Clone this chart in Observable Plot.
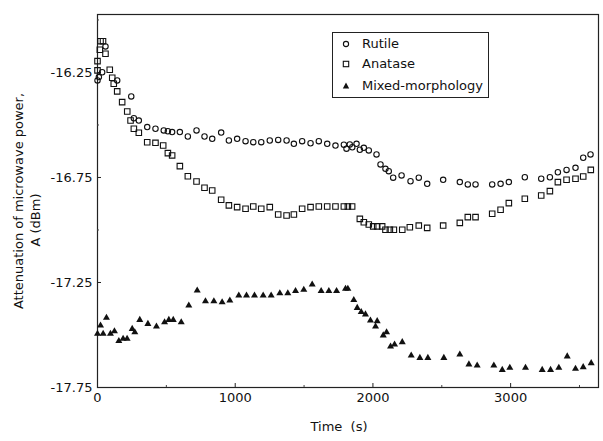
<!DOCTYPE html>
<html>
<head>
<meta charset="utf-8">
<script src="https://cdn.jsdelivr.net/npm/d3@7"></script>
<script src="https://cdn.jsdelivr.net/npm/@observablehq/plot@0.6"></script>
<style>
  html, body { margin: 0; padding: 0; background: #fff; }
  #chart { position: relative; width: 603px; height: 441px; font-family: "DejaVu Sans", sans-serif; color: #111; }
  #legend { position: absolute; left: 332px; top: 32px; width: 157px; height: 66px; box-sizing: border-box;
            border: 1px solid #222; background: #fff; font-size: 13px; }
  #legend .row { position: absolute; left: 0; height: 20px; line-height: 20px; white-space: nowrap; }
  #legend svg { position: absolute; left: 7px; top: 5px; }
  #legend span { position: absolute; left: 29px; }
</style>
</head>
<body>
<div id="chart"></div>
<script>
// Attenuation of microwave power vs time for three TiO2 samples
const rutileT = [0, 10, 34, 58, 143, 245, 264, 300, 361, 421, 481, 511, 542, 598, 656, 719, 777, 833, 898, 954,
  1014, 1075, 1131, 1189, 1251, 1312, 1373, 1426, 1486, 1547, 1607, 1668, 1728, 1789, 1808, 1832, 1850, 1881, 1905, 1934,
  1970, 2026, 2055, 2091, 2115, 2147, 2208, 2273, 2333, 2394, 2510, 2631, 2689, 2745, 2866, 2927, 2987, 3103, 3222, 3285,
  3343, 3406, 3471, 3527, 3580];
const rutileA = [-16.288, -16.272, -16.249, -16.126, -16.288, -16.364, -16.468, -16.479, -16.51, -16.518, -16.526, -16.53, -16.534, -16.534, -16.555, -16.526, -16.555, -16.566, -16.536, -16.574,
  -16.566, -16.577, -16.582, -16.582, -16.574, -16.571, -16.574, -16.59, -16.577, -16.587, -16.577, -16.59, -16.598, -16.594, -16.613, -16.593, -16.606, -16.59, -16.618, -16.609,
  -16.621, -16.64, -16.688, -16.709, -16.72, -16.751, -16.74, -16.768, -16.751, -16.78, -16.761, -16.772, -16.783, -16.783, -16.783, -16.78, -16.772, -16.749, -16.756, -16.749,
  -16.725, -16.714, -16.704, -16.656, -16.64];

const anataseT = [0, 0, 17, 22, 40, 58, 89, 107, 118, 143, 179, 216, 240, 264, 300, 361, 421, 477, 511, 542,
  598, 656, 719, 777, 833, 898, 954, 1014, 1075, 1131, 1189, 1251, 1312, 1373, 1426, 1486, 1547, 1607, 1668, 1728,
  1789, 1818, 1849, 1905, 1934, 1970, 2002, 2031, 2067, 2091, 2123, 2152, 2213, 2268, 2333, 2394, 2510, 2631, 2689, 2745,
  2866, 2927, 2987, 3103, 3222, 3285, 3343, 3406, 3471, 3527, 3582];
const anataseA = [-16.196, -16.24, -16.142, -16.101, -16.101, -16.161, -16.237, -16.275, -16.304, -16.34, -16.391, -16.436, -16.479, -16.518, -16.537, -16.582, -16.585, -16.598, -16.634, -16.645,
  -16.696, -16.744, -16.769, -16.799, -16.812, -16.856, -16.883, -16.891, -16.899, -16.888, -16.899, -16.891, -16.926, -16.931, -16.926, -16.899, -16.891, -16.888, -16.888, -16.888,
  -16.888, -16.888, -16.888, -16.947, -16.963, -16.974, -16.983, -16.983, -16.983, -16.999, -16.999, -16.999, -16.999, -16.987, -16.979, -16.99, -16.979, -16.966, -16.939, -16.939,
  -16.923, -16.904, -16.872, -16.851, -16.836, -16.815, -16.772, -16.761, -16.756, -16.745, -16.714];

const mixedT = [0, 22, 41, 65, 94, 123, 155, 186, 215, 252, 271, 307, 366, 428, 487, 518, 550, 608, 663, 724,
  784, 845, 905, 961, 1026, 1082, 1140, 1203, 1261, 1324, 1382, 1438, 1498, 1559, 1624, 1680, 1736, 1801, 1818, 1861,
  1886, 1915, 1946, 1982, 2019, 2031, 2075, 2099, 2128, 2157, 2213, 2278, 2341, 2399, 2515, 2631, 2697, 2757, 2878, 2939,
  2994, 3108, 3229, 3290, 3350, 3411, 3471, 3527, 3585];
const mixedA = [-17.494, -17.455, -17.494, -17.418, -17.494, -17.482, -17.529, -17.518, -17.518, -17.471, -17.487, -17.428, -17.447, -17.46, -17.439, -17.428, -17.428, -17.439, -17.36, -17.288,
  -17.339, -17.339, -17.344, -17.336, -17.312, -17.312, -17.312, -17.312, -17.312, -17.301, -17.301, -17.291, -17.285, -17.26, -17.291, -17.291, -17.291, -17.28, -17.28, -17.333,
  -17.371, -17.391, -17.402, -17.431, -17.46, -17.434, -17.502, -17.487, -17.555, -17.545, -17.534, -17.598, -17.609, -17.609, -17.609, -17.593, -17.64, -17.645, -17.645, -17.666,
  -17.656, -17.656, -17.666, -17.666, -17.656, -17.602, -17.661, -17.653, -17.634];

const xTicks = [0, 1000, 2000, 3000];
const xMinor = [500, 1500, 2500, 3500];
const yTicks = [-17.75, -17.25, -16.75, -16.25];
const yMinor = [-17.5, -17.0, -16.5, -16.0];

const series = [
  {name: "Rutile", t: rutileT, a: rutileA},
  {name: "Anatase", t: anataseT, a: anataseA},
  {name: "Mixed-morphology", t: mixedT, a: mixedA}
];
const rows = name => {
  const s = series.find(d => d.name === name);
  return s.t.map((t, i) => ({time: t, atten: s.a[i]}));
};

const chart = Plot.plot({
  width: 603,
  height: 441,
  marginLeft: 97,
  marginRight: 5,
  marginTop: 14,
  marginBottom: 54,
  style: {fontFamily: "DejaVu Sans, sans-serif", fontSize: "13px", color: "#111", background: "#fff", overflow: "visible"},
  x: {domain: [0, 3638]},
  y: {domain: [-17.75, -15.974]},
  marks: [
    Plot.frame({stroke: "#222", strokeWidth: 1.2}),
    // tick labels
    Plot.axisX({ticks: xTicks, tickSize: 0, tickPadding: 5, label: null, fontSize: 13, tickFormat: d => String(d)}),
    Plot.axisY({ticks: yTicks, tickSize: 0, tickPadding: 5, label: null, fontSize: 13,
                tickFormat: d => d.toFixed(2)}),
    // small inward tick marks
    Plot.axisX({ticks: xTicks, tickSize: -4, tickFormat: () => "", label: null, stroke: "#222"}),
    Plot.axisX({ticks: xMinor, tickSize: -2, tickFormat: () => "", label: null, stroke: "#444"}),
    Plot.axisY({ticks: yTicks, tickSize: -4, tickFormat: () => "", label: null, stroke: "#222"}),
    Plot.axisY({ticks: yMinor, tickSize: -2, tickFormat: () => "", label: null, stroke: "#444"}),
    // axis titles
    Plot.text(["Time  (s)"], {text: d => d, frameAnchor: "bottom", dx: -9, dy: 43, fontSize: 13}),
    Plot.text(["Attenuation of microwave power,"], {text: d => d, frameAnchor: "left", textAnchor: "middle",
      rotate: -90, dx: -79, dy: 0, fontSize: 13, letterSpacing: 0.4}),
    Plot.text(["A (dBm)"], {text: d => d, frameAnchor: "left", textAnchor: "middle",
      rotate: -90, dx: -62, dy: 19, fontSize: 13}),
    // data
    Plot.dot(rows("Rutile"), {x: "time", y: "atten", r: 2.7, stroke: "#111", strokeWidth: 1.1, fill: "none"}),
    Plot.dot(rows("Anatase"), {x: "time", y: "atten", symbol: "square", r: 3.1, stroke: "#111", strokeWidth: 1.1, fill: "none"}),
    Plot.dot(rows("Mixed-morphology"), {x: "time", y: "atten", symbol: "triangle", r: 2.6, fill: "#111", stroke: "none"})
  ]
});

const host = document.getElementById("chart");
host.appendChild(chart);

// legend box
const legend = document.createElement("div");
legend.id = "legend";
const glyphs = [
  '<circle cx="6" cy="5" r="2.6" fill="none" stroke="#111" stroke-width="1.1"/>',
  '<rect x="3.3" y="2.3" width="5.4" height="5.4" fill="none" stroke="#111" stroke-width="1.1"/>',
  '<path d="M6,1.5L9.2,7.5L2.8,7.5Z" fill="#111"/>'
];
series.forEach((s, i) => {
  const row = document.createElement("div");
  row.className = "row";
  row.style.top = [0.5, 21, 42.5][i] + "px";
  row.innerHTML = `<svg width="12" height="10">${glyphs[i]}</svg><span>${s.name}</span>`;
  legend.appendChild(row);
});
host.appendChild(legend);
</script>
</body>
</html>
